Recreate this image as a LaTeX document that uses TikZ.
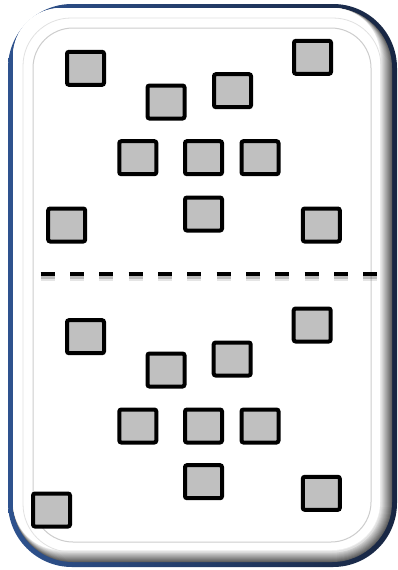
\documentclass[tikz,border=0pt]{standalone}
\definecolor{sqgray}{RGB}{192,192,192}
\definecolor{frameL}{RGB}{46,82,142}
\definecolor{frameR}{RGB}{24,38,66}
\definecolor{lineg}{RGB}{205,205,205}
\begin{document}
\begin{tikzpicture}[x=1pt,y=-1pt,
  sq/.style={draw=black,line width=4pt,fill=sqgray,minimum width=37pt,minimum height=33pt,rounded corners=2pt,inner sep=0pt},
  dashline/.style={line width=3.6pt,dash pattern=on 14pt off 15.33pt}]
\useasboundingbox (0,0) rectangle (398,570);
% outer frame
\shade[left color=frameL,right color=frameR,rounded corners=64pt] (8,4) rectangle (397,567);
% bevel
\foreach \i in {0,...,12}{
  \pgfmathsetmacro{\g}{62-5*\i}
  \pgfmathsetmacro{\r}{60-\i}
  \fill[black!\g,rounded corners=\r pt] (13,8) rectangle (392-\i,562-\i);
}
\fill[white,rounded corners=48pt] (13,8) rectangle (380,550);
% faint inner lines
\draw[lineg!60,line width=0.8pt,rounded corners=48pt] (23,18) rectangle (381,552);
\draw[lineg,line width=1pt,rounded corners=40pt] (33,28) rectangle (371,542);
% dashed divider with shadow
\coordinate (dl) at (40.7,274);
\coordinate (dr) at (378,274);
\draw[dashline,black,opacity=0.1,line width=6.5pt,transform canvas={yshift=-4pt}] (dl) -- (dr);
\draw[dashline,black,opacity=0.18,transform canvas={yshift=-3pt}] (dl) -- (dr);
\draw[dashline,black] (dl) -- (dr);
% top squares
\node[sq] (t1) at (85.5,68.3) {};
\node[sq] (t2) at (166,102) {};
\node[sq] (t3) at (312.5,57.3) {};
\node[sq] (t4) at (232.5,90.7) {};
\node[sq] (t5) at (137.8,157.7) {};
\node[sq] (t6) at (203.5,157.7) {};
\node[sq] (t7) at (260,157.7) {};
\node[sq] (t8) at (66.7,225) {};
\node[sq] (t9) at (203.5,214) {};
\node[sq] (t10) at (321.3,225) {};
% bottom squares
\node[sq] (b1) at (85.5,336.7) {};
\node[sq] (b2) at (166,370) {};
\node[sq] (b3) at (232.2,359) {};
\node[sq] (b4) at (312.2,325) {};
\node[sq] (b5) at (137.8,426) {};
\node[sq] (b6) at (203.5,426) {};
\node[sq] (b7) at (260,426) {};
\node[sq] (b8) at (203.5,481.7) {};
\node[sq] (b9) at (51.5,510) {};
\node[sq] (b10) at (321.3,493.3) {};
\end{tikzpicture}
\end{document}
